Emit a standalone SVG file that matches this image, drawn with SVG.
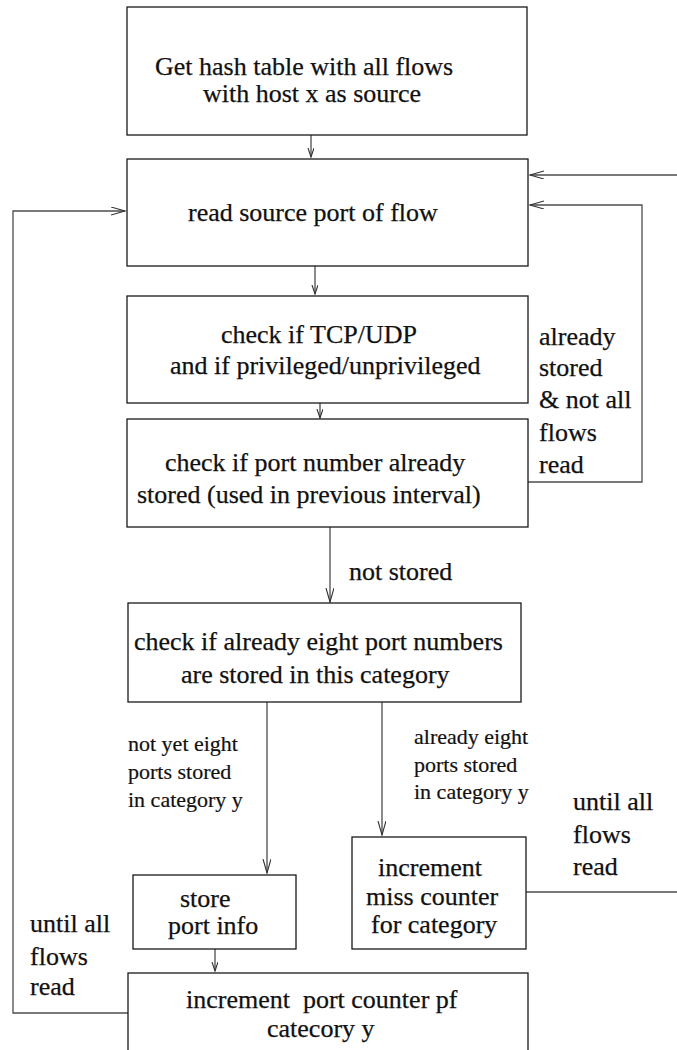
<svg xmlns="http://www.w3.org/2000/svg" width="677" height="1050" viewBox="0 0 677 1050">
  <defs>
    <style>
      .box { fill: #ffffff; stroke: #1a1a1a; stroke-width: 1.3; }
      .t { font-family: "Liberation Serif", Tinos, "Times New Roman", serif; font-size: 26px; fill: #111111; stroke: #111111; stroke-width: 0.25; white-space: pre; }
      .lbl { font-family: "Liberation Serif", Tinos, "Times New Roman", serif; font-size: 22px; fill: #111111; stroke: #111111; stroke-width: 0.2; }
      .wire { fill: none; stroke: #4d4d4d; stroke-width: 1.3; }
    </style>
    <marker id="head" markerUnits="userSpaceOnUse" markerWidth="16" markerHeight="10" refX="14" refY="4" orient="auto">
      <path d="M0,0 L14,4 L0,8" fill="none" stroke="#333333" stroke-width="1.1"/>
    </marker>
    <marker id="headS" markerUnits="userSpaceOnUse" markerWidth="12" markerHeight="8" refX="9" refY="3" orient="auto">
      <path d="M0,0 L9,3 L0,6" fill="none" stroke="#333333" stroke-width="1.1"/>
    </marker>
  </defs>

  <!-- connectors -->
  <g id="connectors">
    <line class="wire" x1="311" y1="135" x2="311" y2="157" marker-end="url(#headS)"/>
    <line class="wire" x1="315" y1="266" x2="315" y2="294" marker-end="url(#headS)"/>
    <line class="wire" x1="320" y1="403" x2="320" y2="418" marker-end="url(#headS)"/>
    <line class="wire" x1="330" y1="527" x2="330" y2="602" marker-end="url(#head)"/>
    <polyline class="wire" points="528,482 642,482 642,205 530,205" marker-end="url(#head)"/>
    <line class="wire" x1="677" y1="175" x2="530" y2="175" marker-end="url(#head)"/>
    <line class="wire" x1="267" y1="702" x2="267" y2="873" marker-end="url(#head)"/>
    <line class="wire" x1="382" y1="702" x2="382" y2="835" marker-end="url(#head)"/>
    <line class="wire" x1="526" y1="892" x2="677" y2="892"/>
    <line class="wire" x1="215" y1="949" x2="215" y2="971" marker-end="url(#headS)"/>
    <polyline class="wire" points="128,1013 13,1013 13,211 125,211" marker-end="url(#head)"/>
  </g>

  <!-- connector labels -->
  <g id="labels">
    <text class="t" x="539" y="345">already</text>
    <text class="t" x="539" y="376">stored</text>
    <text class="t" x="539" y="408">&amp; not all</text>
    <text class="t" x="539" y="441">flows</text>
    <text class="t" x="539" y="473">read</text>
    <text class="t" x="349" y="580">not stored</text>
    <text class="lbl" x="128" y="751">not yet eight</text>
    <text class="lbl" x="128" y="779">ports stored</text>
    <text class="lbl" x="128" y="807">in category y</text>
    <text class="lbl" x="414" y="744">already eight</text>
    <text class="lbl" x="414" y="772">ports stored</text>
    <text class="lbl" x="414" y="799">in category y</text>
    <text class="t" x="573" y="810">until all</text>
    <text class="t" x="573" y="843">flows</text>
    <text class="t" x="573" y="875">read</text>
    <text class="t" x="30" y="932">until all</text>
    <text class="t" x="30" y="965">flows</text>
    <text class="t" x="30" y="995">read</text>
  </g>

  <g id="get-hash-table">
    <rect class="box" x="127" y="7" width="400" height="128"/>
    <text class="t" x="155" y="75">Get hash table with all flows</text>
    <text class="t" x="203" y="102">with host x as source</text>
  </g>

  <g id="read-source-port">
    <rect class="box" x="127" y="159" width="401" height="107"/>
    <text class="t" x="188" y="221">read source port of flow</text>
  </g>

  <g id="check-protocol">
    <rect class="box" x="127" y="296" width="401" height="107"/>
    <text class="t" x="221" y="343">check if TCP/UDP</text>
    <text class="t" x="170" y="374">and if privileged/unprivileged</text>
  </g>

  <g id="check-stored">
    <rect class="box" x="127" y="419" width="401" height="108"/>
    <text class="t" x="165" y="471">check if port number already</text>
    <text class="t" x="137" y="503">stored (used in previous interval)</text>
  </g>

  <g id="check-eight">
    <rect class="box" x="128" y="603" width="393" height="99"/>
    <text class="t" x="134" y="650">check if already eight port numbers</text>
    <text class="t" x="181" y="683">are stored in this category</text>
  </g>

  <g id="store-port-info">
    <rect class="box" x="133" y="875" width="163" height="74"/>
    <text class="t" x="180" y="907">store</text>
    <text class="t" x="168" y="934">port info</text>
  </g>

  <g id="miss-counter">
    <rect class="box" x="352" y="837" width="174" height="112"/>
    <text class="t" x="378" y="876">increment</text>
    <text class="t" x="366" y="905">miss counter</text>
    <text class="t" x="371" y="933">for category</text>
  </g>

  <g id="port-counter">
    <rect class="box" x="128" y="973" width="400" height="100"/>
    <text class="t" x="186" y="1008">increment  port counter pf</text>
    <text class="t" x="267" y="1037">catecory y</text>
  </g>
</svg>
